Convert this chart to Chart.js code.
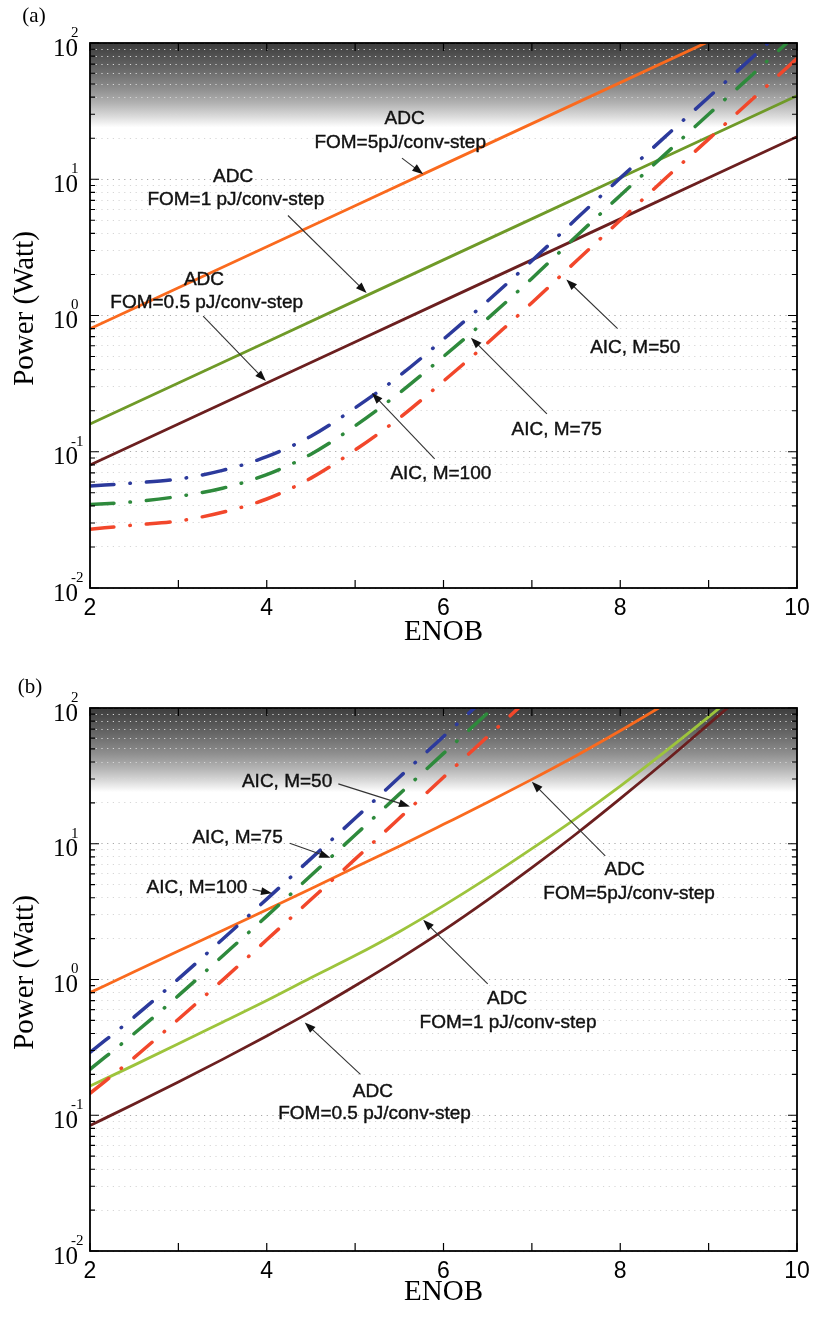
<!DOCTYPE html>
<html>
<head>
<meta charset="utf-8">
<script src="https://cdn.jsdelivr.net/npm/chart.js@4.4.1/dist/chart.umd.min.js"></script>
<style>
  html, body { margin: 0; padding: 0; background: #fff; }
  .panel { position: relative; width: 819px; height: 659px; }
</style>
</head>
<body>
<div class="panel"><canvas id="chart-a"></canvas></div>
<div class="panel"><canvas id="chart-b"></canvas></div>
<script>
// ENOB sample points
const ENOB_INT = [2, 3, 4, 5, 6, 7, 8, 9, 10];
const ENOB_HALF = [2, 2.5, 3, 3.5, 4, 4.5, 5, 5.5, 6, 6.5, 7, 7.5, 8, 8.5, 9, 9.5, 10];

// axis ticks
const X_TICKS = [2, 3, 4, 5, 6, 7, 8, 9, 10];
const X_LABELS = ["2", "", "4", "", "6", "", "8", "", "10"];
const Y_DECADES = [0.01, 0.1, 1, 10, 100];
const Y_EXPONENTS = ["-2", "-1", "0", "1", "2"];

// (a) power in Watt
const A_ADC_5PJ = [0.8, 1.6, 3.2, 6.4, 12.8, 25.6, 51.2, 102.4, 204.8];
const A_ADC_1PJ = [0.16, 0.32, 0.64, 1.28, 2.56, 5.12, 10.24, 20.48, 40.96];
const A_ADC_05PJ = [0.08, 0.16, 0.32, 0.64, 1.28, 2.56, 5.12, 10.24, 20.48];
const A_AIC_100 = [0.056, 0.059, 0.063, 0.073, 0.092, 0.13, 0.21, 0.36, 0.67, 1.28, 2.52, 5.1, 10.2, 20.3, 40, 79, 157];
const A_AIC_75 = [0.041, 0.043, 0.047, 0.054, 0.068, 0.096, 0.155, 0.27, 0.5, 0.95, 1.87, 3.8, 7.6, 15.1, 30, 59, 117];
const A_AIC_50 = [0.027, 0.029, 0.031, 0.036, 0.045, 0.064, 0.103, 0.177, 0.33, 0.63, 1.24, 2.5, 5.0, 10, 19.7, 39, 77];

// (b) power in Watt
const B_ADC_5PJ = [0.8, 1.14, 1.62, 2.3, 3.27, 4.66, 6.7, 9.6, 13.9, 20.2, 29.8, 44.5, 68, 106, 168];
const B_ADC_1PJ = [0.164, 0.234, 0.336, 0.485, 0.7, 1.03, 1.5, 2.25, 3.5, 5.6, 9.2, 15.4, 26.6, 47.3, 86, 160];
const B_ADC_05PJ = [0.084, 0.121, 0.176, 0.258, 0.384, 0.58, 0.9, 1.42, 2.3, 3.86, 6.66, 11.8, 21.5, 40, 76, 145];
const B_AIC_100 = [0.29, 0.53, 1.01, 1.98, 3.91, 7.77, 15.4, 30.9, 61.7, 123];
const B_AIC_75 = [0.218, 0.4, 0.76, 1.49, 2.93, 5.83, 11.6, 23.2, 46.3, 92, 184];
const B_AIC_50 = [0.145, 0.266, 0.51, 0.99, 1.96, 3.88, 7.7, 15.4, 30.9, 61.7, 123];

// shaded band starts here (Watt)
const SHADE_FROM = 24;

const ORANGE = "#fa6a1e";
const BROWN = "#6b1f1f";
const BLUE = "#2c3a9c";
const GREEN = "#2e8a3c";
const RED = "#f2472b";

const SANS = "'Liberation Sans', Arial, sans-serif";
const SERIF = "'Liberation Serif', 'Times New Roman', serif";

// annotations in data coordinates (ENOB, Watt)
const A_NOTES = [
  { text: "ADC", x: 5.56, y: 27.7 },
  { text: "FOM=5pJ/conv-step", x: 5.51, y: 18.6 },
  { text: "ADC", x: 3.62, y: 10.5 },
  { text: "FOM=1 pJ/conv-step", x: 3.65, y: 7.08 },
  { text: "ADC", x: 3.29, y: 1.84 },
  { text: "FOM=0.5 pJ/conv-step", x: 3.32, y: 1.25 },
  { text: "AIC, M=100", x: 5.97, y: 0.069 },
  { text: "AIC, M=75", x: 7.28, y: 0.146 },
  { text: "AIC, M=50", x: 8.17, y: 0.58 },
];
const A_ARROWS = [
  { from: [5.53, 14.3], to: [5.77, 10.9] },
  { from: [4.24, 5.42], to: [5.13, 1.46] },
  { from: [3.28, 0.99], to: [3.99, 0.33] },
  { from: [5.9, 0.0887], to: [5.19, 0.27] },
  { from: [7.17, 0.19], to: [6.31, 0.687] },
  { from: [7.97, 0.8], to: [7.39, 1.84] },
];
const B_NOTES = [
  { text: "AIC, M=50", x: 4.23, y: 28.6 },
  { text: "AIC, M=75", x: 3.67, y: 11.0 },
  { text: "AIC, M=100", x: 3.21, y: 4.77 },
  { text: "ADC", x: 8.05, y: 6.44 },
  { text: "FOM=5pJ/conv-step", x: 8.1, y: 4.25 },
  { text: "ADC", x: 6.72, y: 0.72 },
  { text: "FOM=1 pJ/conv-step", x: 6.73, y: 0.483 },
  { text: "ADC", x: 5.2, y: 0.15 },
  { text: "FOM=0.5 pJ/conv-step", x: 5.22, y: 0.102 },
];
const B_ARROWS = [
  { from: [4.81, 27.6], to: [5.62, 18.8] },
  { from: [4.26, 10.1], to: [4.72, 7.89] },
  { from: [3.84, 4.61], to: [4.06, 4.31] },
  { from: [7.83, 8.15], to: [7.0, 28.6] },
  { from: [6.5, 0.927], to: [5.77, 2.75] },
  { from: [5.06, 0.2], to: [4.43, 0.483] },
];

const toPoints = (xs, ys) => ys.map((y, i) => ({ x: xs[i], y: y }));

const adcLine = (xs, ys, color, smooth) => ({
  data: toPoints(xs, ys),
  borderColor: color,
  borderWidth: 2.8,
  pointRadius: 0,
  fill: false,
  clip: 0,
  cubicInterpolationMode: smooth ? "monotone" : "default",
  tension: 0,
});

const aicLine = (xs, ys, color) => ({
  data: toPoints(xs, ys),
  borderColor: color,
  borderWidth: 3.5,
  borderCapStyle: "round",
  borderDash: [24, 16, 0.5, 16],
  pointRadius: 0,
  fill: false,
  clip: 0,
  cubicInterpolationMode: "monotone",
});

const drawArrow = (ctx, x1, y1, x2, y2) => {
  const ang = Math.atan2(y2 - y1, x2 - x1);
  const len = 11;
  const hw = 4;
  ctx.strokeStyle = "#333";
  ctx.lineWidth = 1.1;
  ctx.beginPath();
  ctx.moveTo(x1, y1);
  ctx.lineTo(x2 - Math.cos(ang) * len * 0.8, y2 - Math.sin(ang) * len * 0.8);
  ctx.stroke();
  ctx.fillStyle = "#111";
  ctx.beginPath();
  ctx.moveTo(x2, y2);
  ctx.lineTo(x2 - Math.cos(ang) * len - Math.sin(ang) * hw, y2 - Math.sin(ang) * len + Math.cos(ang) * hw);
  ctx.lineTo(x2 - Math.cos(ang) * len + Math.sin(ang) * hw, y2 - Math.sin(ang) * len - Math.cos(ang) * hw);
  ctx.closePath();
  ctx.fill();
};

const figurePlugin = {
  id: "figure",
  beforeDraw(chart) {
    const { ctx, chartArea: a } = chart;
    const yEnd = chart.scales.y.getPixelForValue(SHADE_FROM);
    const g = ctx.createLinearGradient(0, a.top, 0, yEnd);
    g.addColorStop(0, "#3c3c3c");
    g.addColorStop(0.3, "#666666");
    g.addColorStop(0.55, "#909090");
    g.addColorStop(0.72, "#b4b4b4");
    g.addColorStop(0.86, "#d8d8d8");
    g.addColorStop(1, "#ffffff");
    ctx.save();
    ctx.fillStyle = g;
    ctx.fillRect(a.left, a.top, a.right - a.left, yEnd - a.top);
    ctx.restore();
  },
  afterDraw(chart, args, opts) {
    const { ctx, chartArea: a } = chart;
    const xs = chart.scales.x;
    const ys = chart.scales.y;
    ctx.save();

    // frame
    ctx.strokeStyle = "#000";
    ctx.lineWidth = 1.8;
    ctx.strokeRect(a.left, a.top, a.right - a.left, a.bottom - a.top);

    // ticks pointing inward
    ctx.lineWidth = 1.2;
    ctx.beginPath();
    xs.ticks.forEach((t) => {
      const px = xs.getPixelForValue(t.value);
      ctx.moveTo(px, a.bottom);
      ctx.lineTo(px, a.bottom - 8);
      ctx.moveTo(px, a.top);
      ctx.lineTo(px, a.top + 8);
    });
    ys.ticks.forEach((t) => {
      const py = ys.getPixelForValue(t.value);
      const len = t.major ? 9 : 5;
      ctx.moveTo(a.left, py);
      ctx.lineTo(a.left + len, py);
      ctx.moveTo(a.right, py);
      ctx.lineTo(a.right - len, py);
    });
    ctx.stroke();

    // x tick labels
    ctx.fillStyle = "#000";
    ctx.font = "23px " + SANS;
    ctx.textAlign = "center";
    ctx.textBaseline = "middle";
    xs.ticks.forEach((t, i) => {
      if (X_LABELS[i]) ctx.fillText(X_LABELS[i], xs.getPixelForValue(t.value), a.bottom + 21);
    });

    // y tick labels 10^n
    Y_DECADES.forEach((v, i) => {
      const py = ys.getPixelForValue(v);
      ctx.font = "25px " + SERIF;
      ctx.textAlign = "right";
      ctx.fillText("10", 78, py + 6);
      ctx.font = "15px " + SERIF;
      ctx.textAlign = "left";
      ctx.fillText(Y_EXPONENTS[i], 71, py - 10);
    });

    // axis titles
    ctx.font = "29px " + SERIF;
    ctx.textAlign = "center";
    ctx.fillText("ENOB", (a.left + a.right) / 2, a.bottom + opts.titleGap);
    ctx.save();
    ctx.translate(25, (a.top + a.bottom) / 2 - 7);
    ctx.rotate(-Math.PI / 2);
    ctx.fillText("Power (Watt)", 0, 0);
    ctx.restore();

    // panel label
    ctx.font = "21px " + SERIF;
    ctx.fillText(opts.label, opts.labelX, opts.labelY);

    // annotations
    opts.arrows.forEach((ar) => {
      drawArrow(
        ctx,
        xs.getPixelForValue(ar.from[0]), ys.getPixelForValue(ar.from[1]),
        xs.getPixelForValue(ar.to[0]), ys.getPixelForValue(ar.to[1])
      );
    });
    ctx.fillStyle = "#111";
    ctx.strokeStyle = "#111";
    ctx.lineWidth = 0.4;
    ctx.font = "19px " + SANS;
    ctx.textAlign = "center";
    ctx.textBaseline = "middle";
    opts.notes.forEach((n) => {
      const px = xs.getPixelForValue(n.x);
      const py = ys.getPixelForValue(n.y);
      ctx.fillText(n.text, px, py);
      ctx.strokeText(n.text, px, py);
    });

    ctx.restore();
  },
};

const yTicks = [];
Y_DECADES.forEach((d, i) => {
  if (i === Y_DECADES.length - 1) {
    yTicks.push({ value: d, major: true });
    return;
  }
  for (let k = 1; k <= 9; k++) {
    yTicks.push({ value: +(d * k).toPrecision(3), major: k === 1 });
  }
});

const makeChart = (id, datasets, fig) =>
  new Chart(document.getElementById(id), {
    type: "line",
    data: { datasets },
    options: {
      responsive: true,
      maintainAspectRatio: false,
      animation: false,
      layout: { padding: fig.padding },
      plugins: {
        legend: { display: false },
        tooltip: { enabled: false },
        figure: fig,
      },
      scales: {
        x: {
          type: "linear",
          min: 2,
          max: 10,
          afterBuildTicks: (s) => {
            s.ticks = X_TICKS.map((v) => ({ value: v }));
          },
          grid: { display: false },
          border: { display: false },
          ticks: { display: false, callback: () => "" },
        },
        y: {
          type: "logarithmic",
          min: 0.01,
          max: 100,
          afterBuildTicks: (s) => {
            s.ticks = yTicks.map((t) => ({ value: t.value, major: t.major }));
          },
          grid: {
            drawTicks: false,
            lineWidth: 1,
            color: (c) => (c.tick && c.tick.major ? "#a8a8a8" : "#d6d6d6"),
          },
          border: { display: false, dash: [1.2, 4.5] },
          ticks: { display: false, callback: () => "" },
        },
      },
    },
    plugins: [figurePlugin],
  });

makeChart(
  "chart-a",
  [
    aicLine(ENOB_HALF, A_AIC_100, BLUE),
    aicLine(ENOB_HALF, A_AIC_75, GREEN),
    aicLine(ENOB_HALF, A_AIC_50, RED),
    adcLine(ENOB_INT, A_ADC_5PJ, ORANGE, false),
    adcLine(ENOB_INT, A_ADC_1PJ, "#6f9a28", false),
    adcLine(ENOB_INT, A_ADC_05PJ, BROWN, false),
  ],
  {
    padding: { left: 90, right: 22, top: 43, bottom: 63 },
    label: "(a)",
    labelX: 34,
    labelY: 16,
    titleGap: 44,
    notes: A_NOTES,
    arrows: A_ARROWS,
  }
);

makeChart(
  "chart-b",
  [
    aicLine(ENOB_HALF, B_AIC_100, BLUE),
    aicLine(ENOB_HALF, B_AIC_75, GREEN),
    aicLine(ENOB_HALF, B_AIC_50, RED),
    adcLine(ENOB_HALF, B_ADC_5PJ, ORANGE, true),
    adcLine(ENOB_HALF, B_ADC_1PJ, "#9dc43c", true),
    adcLine(ENOB_HALF, B_ADC_05PJ, BROWN, true),
  ],
  {
    padding: { left: 90, right: 22, top: 49, bottom: 59 },
    label: "(b)",
    labelX: 30,
    labelY: 28,
    titleGap: 41,
    notes: B_NOTES,
    arrows: B_ARROWS,
  }
);
</script>
</body>
</html>
